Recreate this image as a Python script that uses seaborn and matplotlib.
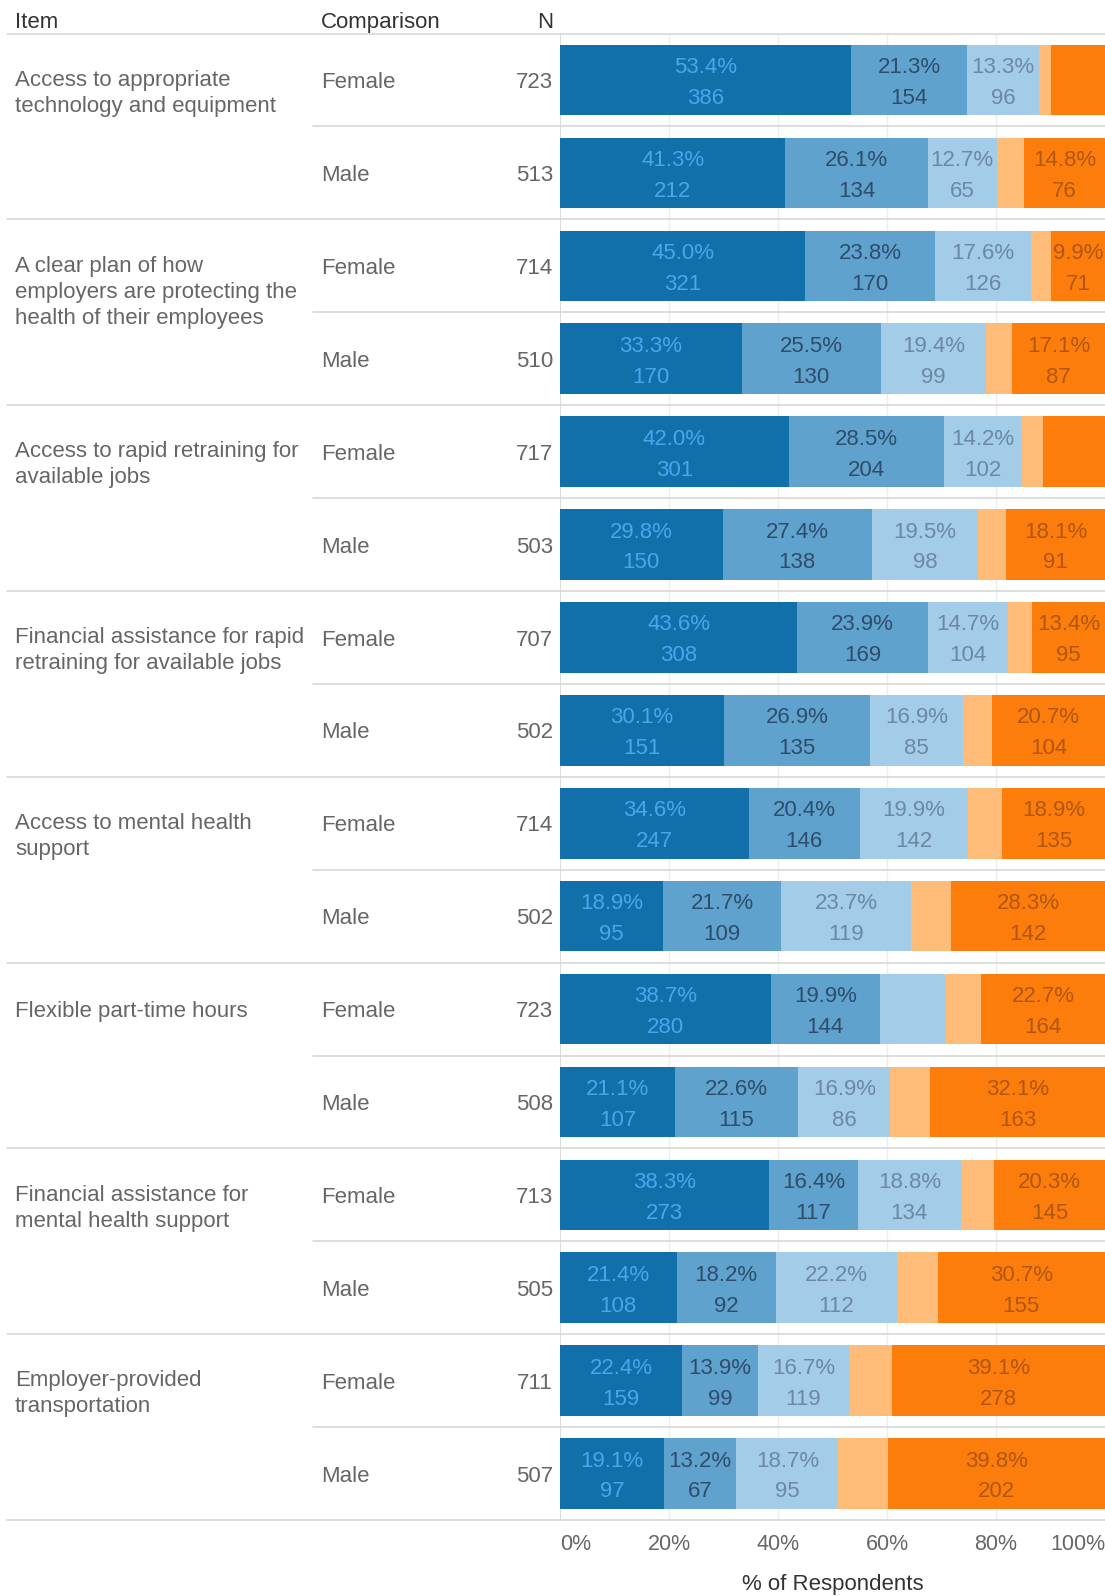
import pandas as pd
import seaborn as sns
import matplotlib.pyplot as plt
from matplotlib.lines import Line2D
from matplotlib.transforms import blended_transform_factory

items = [
    "Access to appropriate\ntechnology and equipment",
    "A clear plan of how\nemployers are protecting the\nhealth of their employees",
    "Access to rapid retraining for\navailable jobs",
    "Financial assistance for rapid\nretraining for available jobs",
    "Access to mental health\nsupport",
    "Flexible part-time hours",
    "Financial assistance for\nmental health support",
    "Employer-provided\ntransportation",
]
genders = ["Female", "Male"]
n_resp = [723, 513, 714, 510, 717, 503, 707, 502, 714, 502, 723, 508, 713, 505, 711, 507]

# respondent counts per response level, rows go item1/Female, item1/Male, item2/Female ...
lvl1 = [386, 212, 321, 170, 301, 150, 308, 151, 247, 95, 280, 107, 273, 108, 159, 97]
lvl2 = [154, 134, 170, 130, 204, 138, 169, 135, 146, 109, 144, 115, 117, 92, 99, 67]
lvl3 = [96, 65, 126, 99, 102, 98, 104, 85, 142, 119, 87, 86, 134, 112, 119, 95]
lvl4 = [16, 26, 26, 24, 29, 26, 31, 27, 44, 37, 48, 37, 44, 38, 56, 46]
lvl5 = [71, 76, 71, 87, 81, 91, 95, 104, 135, 142, 164, 163, 145, 155, 278, 202]

levels = ["L1", "L2", "L3", "L4", "L5"]
colors = ["#1170aa", "#5fa2ce", "#a3cce9", "#ffbc79", "#fc7d0b"]
label_colors = ["#48a6ec", "#2f4d6a", "#6b89a2", None, "#b0570f"]
# (row, level) whose labels are not shown in the original
hidden = [(0, 4), (4, 4), (10, 2)]

W, H = 1105, 1596
sns.set_style("white")
plt.rcParams["font.family"] = ["Liberation Sans", "DejaVu Sans"]

fig = plt.figure(figsize=(W / 100, H / 100), dpi=100)
top_px, bot_px, left_px = 33.6, 1520, 560
ax = fig.add_axes([left_px / W, 1 - bot_px / H, 1 - left_px / W, (bot_px - top_px) / H])

counts = [lvl1, lvl2, lvl3, lvl4, lvl5]
nrows = len(n_resp)
rows = [str(i) for i in range(nrows)]
recs = []
cum = [[0.0] * nrows]
for k, lv in enumerate(levels):
    prev = cum[-1]
    cur = [prev[i] + counts[k][i] / n_resp[i] * 100 for i in range(nrows)]
    cum.append(cur)
    for i in range(nrows):
        recs.append({"row": rows[i], "level": lv, "cum": cur[i]})
df = pd.DataFrame(recs)

sns.barplot(data=df, x="cum", y="row", hue="level", hue_order=levels[::-1],
            order=rows, palette=dict(zip(levels, colors)), dodge=False,
            width=0.76, saturation=1, linewidth=0, errorbar=None,
            legend=False, orient="h", ax=ax)

ax.set_xlim(0, 100)
ax.set_ylim(nrows - 0.5, -0.5)
for s in ax.spines.values():
    s.set_visible(False)
ax.set_yticks([])
ax.set_ylabel("")
ax.set_xticks([0, 20, 40, 60, 80, 100])
ax.set_xticklabels(["0%", "20%", "40%", "60%", "80%", "100%"])
ax.tick_params(axis="x", length=0, pad=10, labelsize=15.5, labelcolor="#666666")
tl = ax.get_xticklabels()
tl[0].set_ha("left")
tl[-1].set_ha("right")
for x in [20, 40, 60, 80]:
    ax.axvline(x, color="#ededed", lw=1, zorder=0)
ax.axvline(0, color="#d6d6d6", lw=1.2, zorder=0)
ax.set_xlabel("% of Respondents", fontsize=16, color="#333333", labelpad=14)

# bar labels
for i in range(nrows):
    for k in range(5):
        if label_colors[k] is None or (i, k) in hidden:
            continue
        xc = (cum[k][i] + cum[k + 1][i]) / 2
        pct = counts[k][i] / n_resp[i] * 100
        ax.text(xc, i - 0.135, f"{pct:.1f}%", ha="center", va="center",
                fontsize=16, color=label_colors[k])
        ax.text(xc, i + 0.198, f"{counts[k][i]}", ha="center", va="center",
                fontsize=16, color=label_colors[k])

# table part on the left
tr = blended_transform_factory(fig.transFigure, ax.transData)
txt = "#666666"
hdr_y = -0.62
ax.text(15 / W, hdr_y, "Item", transform=tr, ha="left", va="center", fontsize=16, color="#333333")
ax.text(321 / W, hdr_y, "Comparison", transform=tr, ha="left", va="center", fontsize=16, color="#333333")
ax.text(553 / W, hdr_y, "N", transform=tr, ha="right", va="center", fontsize=16, color="#333333")

for g, item in enumerate(items):
    r0 = 2 * g
    parts = item.split("\n")
    y0 = r0 + (0.087 if len(parts) == 1 else 0.062)
    for j, line in enumerate(parts):
        ax.text(15 / W, y0 + j * 0.28, line, transform=tr, ha="left", va="baseline",
                fontsize=16, color=txt)
    for j, gen in enumerate(genders):
        r = r0 + j
        ax.text(321 / W, r + 0.087, gen, transform=tr, ha="left", va="baseline",
                fontsize=16, color=txt)
        ax.text(553 / W, r + 0.087, str(n_resp[r]), transform=tr, ha="right",
                va="baseline", fontsize=16, color=txt)

line_c = "#d5d5d5"
for y in [-0.5] + [2 * g + 1.5 for g in range(len(items))]:
    ax.add_line(Line2D([7 / W, 1], [y, y], transform=tr, color=line_c, lw=1.1, clip_on=False))
for g in range(len(items)):
    y = 2 * g + 0.5
    ax.add_line(Line2D([313 / W, 1], [y, y], transform=tr, color=line_c, lw=1.1, clip_on=False))

fig.savefig("out.png", dpi=100)
